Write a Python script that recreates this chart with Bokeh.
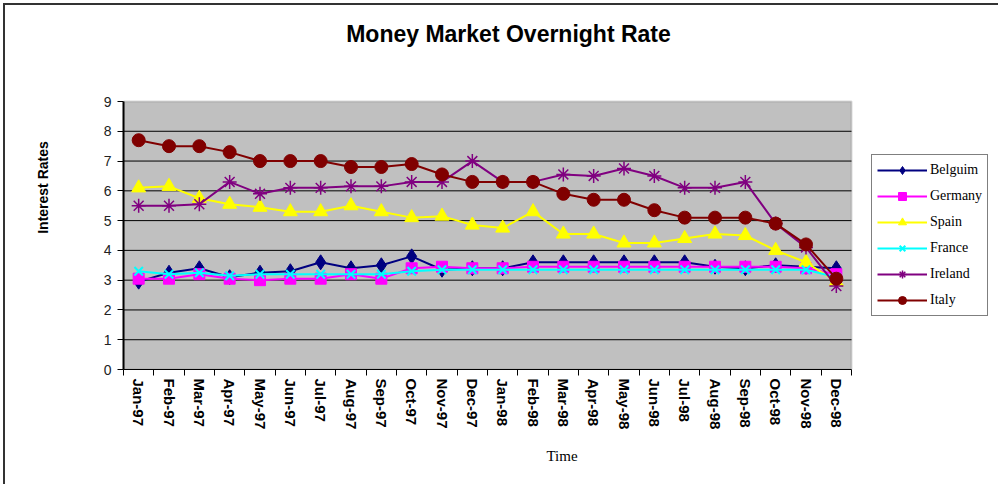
from bokeh.plotting import figure
from bokeh.models import FixedTicker, Legend, LegendItem, Range1d, BoxAnnotation, Label
from bokeh.embed import file_html
from bokeh.resources import INLINE

months = ["Jan-97", "Feb-97", "Mar-97", "Apr-97", "May-97", "Jun-97", "Jul-97", "Aug-97",
          "Sep-97", "Oct-97", "Nov-97", "Dec-97", "Jan-98", "Feb-98", "Mar-98", "Apr-98",
          "May-98", "Jun-98", "Jul-98", "Aug-98", "Sep-98", "Oct-98", "Nov-98", "Dec-98"]

belgium = [2.95, 3.25, 3.4, 3.1, 3.25, 3.3, 3.6, 3.4, 3.5, 3.8, 3.35, 3.4,
           3.4, 3.6, 3.6, 3.6, 3.6, 3.6, 3.6, 3.45, 3.4, 3.5, 3.45, 3.4]
germany = [3.05, 3.05, 3.2, 3.05, 3.0, 3.05, 3.05, 3.2, 3.05, 3.4, 3.45, 3.4,
           3.4, 3.45, 3.45, 3.45, 3.45, 3.45, 3.45, 3.45, 3.45, 3.45, 3.4, 3.2]
spain = [6.1, 6.15, 5.75, 5.55, 5.45, 5.3, 5.3, 5.5, 5.3, 5.1, 5.15, 4.85,
         4.75, 5.3, 4.55, 4.55, 4.25, 4.25, 4.4, 4.55, 4.5, 4.0, 3.6, 2.95]
france = [3.3, 3.2, 3.25, 3.15, 3.2, 3.2, 3.2, 3.2, 3.2, 3.3, 3.35, 3.35,
          3.35, 3.35, 3.35, 3.35, 3.35, 3.35, 3.35, 3.35, 3.35, 3.35, 3.35, 3.1]
ireland = [5.5, 5.5, 5.55, 6.3, 5.9, 6.1, 6.1, 6.15, 6.15, 6.3, 6.3, 7.0,
           6.3, 6.3, 6.55, 6.5, 6.75, 6.5, 6.1, 6.1, 6.3, 4.9, 4.1, 2.8]
italy = [7.7, 7.5, 7.5, 7.3, 7.0, 7.0, 7.0, 6.8, 6.8, 6.9, 6.55, 6.3,
         6.3, 6.3, 5.9, 5.7, 5.7, 5.35, 5.1, 5.1, 5.1, 4.9, 4.2, 3.05]

series_names = ["Belguim", "Germany", "Spain", "France", "Ireland", "Italy"]
y_ticks = [0, 1, 2, 3, 4, 5, 6, 7, 8, 9]

n = len(months)
x = list(range(n))
y_max = max(y_ticks)

# layout (pixels)
OX = 5                      # canvas offset inside page (css margin)
W, H = 1000 - OX, 486 - OX
LEFT = 123 - OX             # plot area left edge on canvas
PLOT_W = 728                # width of the grey plot area
PLOT_H = 268                # height of the grey plot area
BOTTOM = H - (369 - OX)     # space below the plot area
FRAME_W = W - LEFT
FRAME_H = H - BOTTOM
px_x = PLOT_W / n
px_y = PLOT_H / y_max

p = figure(width=W, height=H, output_backend="svg", toolbar_location=None,
           x_range=Range1d(-0.5, -0.5 + FRAME_W / px_x),
           y_range=Range1d(0, FRAME_H / px_y),
           min_border_left=LEFT, min_border_right=0, min_border_top=0,
           min_border_bottom=BOTTOM)
p.styles = {"margin-left": "5px", "margin-top": "5px", "vertical-align": "top",
            "box-shadow": "-2px -2px 0 0 #333333"}

p.background_fill_color = "white"
p.border_fill_color = "white"
p.outline_line_color = None
p.xgrid.grid_line_color = None
p.ygrid.grid_line_color = None

# grey plot area
p.add_layout(BoxAnnotation(left=-0.5, right=n - 0.5, bottom=0, top=y_max,
                           fill_color="#C0C0C0", fill_alpha=1,
                           line_color="#808080", line_width=2, level="underlay"))
inner = y_ticks[1:-1]
p.segment(x0=[-0.5] * len(inner), y0=inner, x1=[n - 0.5] * len(inner), y1=inner,
          line_color="black", line_width=1)

# title
p.add_layout(Label(x=-0.5 + (508 - 123) / px_x, y=(369 - 33) / px_y,
                   text="Money Market Overnight Rate", text_font="Liberation Sans",
                   text_font_size="23px", text_font_style="bold", text_color="black",
                   text_align="center", text_baseline="middle"))

ya = p.yaxis[0]
ya.ticker = FixedTicker(ticks=y_ticks)
ya.bounds = (0, y_max)
ya.axis_line_color = "black"
ya.axis_line_width = 2
ya.major_tick_out = 6
ya.major_tick_in = 0
ya.minor_tick_out = 0
ya.minor_tick_in = 0
ya.major_label_text_font = "Liberation Sans"
ya.major_label_text_font_size = "14px"
ya.major_label_text_color = "#222222"
ya.major_label_standoff = 6
ya.axis_label = "Interest Rates"
ya.axis_label_text_font = "Liberation Sans"
ya.axis_label_text_font_size = "14px"
ya.axis_label_text_font_style = "bold"
ya.axis_label_text_color = "black"
ya.axis_label_standoff = 50

xa = p.xaxis[0]
xa.ticker = FixedTicker(ticks=x, minor_ticks=[i - 0.5 for i in range(n + 1)])
xa.bounds = (-0.5, n - 0.5)
xa.major_label_overrides = {i: m for i, m in enumerate(months)}
xa.major_label_orientation = "vertical"
xa.axis_line_color = "black"
xa.axis_line_width = 1
xa.major_tick_out = 0
xa.major_tick_in = 0
xa.minor_tick_out = 6
xa.minor_tick_in = 0
xa.minor_tick_line_color = "black"
xa.major_label_text_font = "Liberation Sans"
xa.major_label_text_font_size = "15px"
xa.major_label_text_font_style = "bold"
xa.major_label_text_color = "black"
xa.major_label_standoff = 3
xa.axis_label = "Time"
xa.axis_label_text_font = "Liberation Serif"
xa.axis_label_text_font_size = "15px"
xa.axis_label_text_font_style = "normal"
xa.axis_label_text_color = "black"
xa.axis_label_standoff = 16

styles = [
    (belgium, "#000080", "diamond", 15, 1),
    (germany, "#FF00FF", "square", 11, 1),
    (spain, "#FFFF00", "triangle", 14, 1),
    (france, "#00FFFF", "x", 12, 2),
    (ireland, "#800080", "asterisk", 14, 1.5),
    (italy, "#800000", "circle", 13, 1),
]

items = []
for name, (vals, color, marker, size, lw) in zip(series_names, styles):
    r1 = p.line(x, vals, line_color=color, line_width=2)
    r2 = p.scatter(x, vals, marker=marker, size=size,
                   fill_color=color, line_color=color, line_width=lw)
    items.append(LegendItem(label=name, renderers=[r1, r2]))

legend = Legend(items=items, location=(871 - 123, 369 - 316))
legend.border_line_color = "black"
legend.border_line_width = 1
legend.background_fill_color = "white"
legend.background_fill_alpha = 1
legend.label_text_font = "Liberation Serif"
legend.label_text_font_size = "14px"
legend.label_text_color = "black"
legend.glyph_width = 50
legend.glyph_height = 20
legend.label_height = 20
legend.spacing = 6
legend.padding = 5
legend.margin = 0
legend.label_standoff = 3
p.add_layout(legend)

open("out.html", "w").write(file_html(p, INLINE))
